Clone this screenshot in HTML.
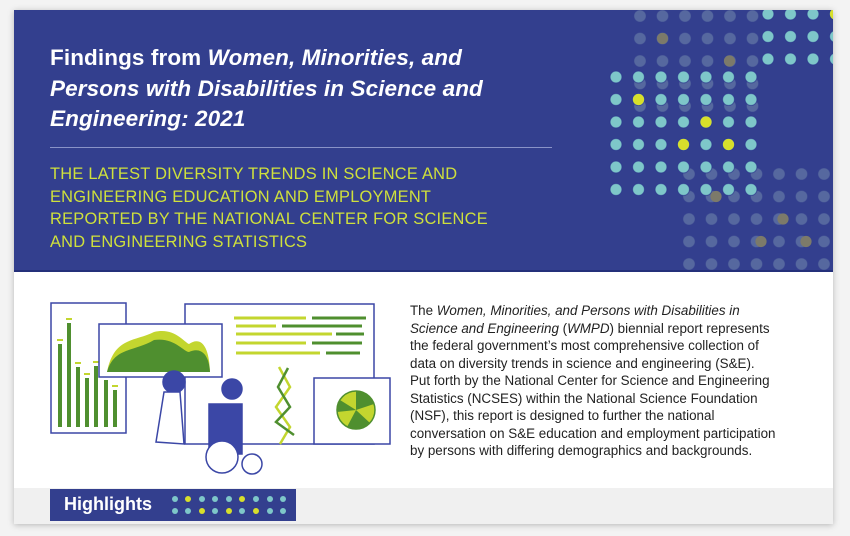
<!DOCTYPE html>
<html><head><meta charset="utf-8"><style>
body{margin:0;width:850px;height:536px;background:#f3f3f3;font-family:"Liberation Sans",sans-serif;position:relative;overflow:hidden}
.card{position:absolute;left:14px;top:10px;width:819px;height:514px;background:#fff;box-shadow:0 1px 6px rgba(0,0,0,.25)}
.band{position:absolute;left:0;top:0;width:819px;height:260px;background:#333f8e;border-bottom:2px solid #24307a}
.title{position:absolute;left:36px;top:33px;color:#fff;font-weight:bold;font-size:22.5px;line-height:30.5px;letter-spacing:0.1px}
.rule{position:absolute;left:36px;top:137px;width:502px;height:1px;background:#8a93c8}
.sub{position:absolute;left:36px;top:153px;color:#cfe03c;font-size:16.4px;line-height:22.5px;letter-spacing:0.25px}
.para{position:absolute;left:396px;top:292px;font-size:13.4px;line-height:17.5px;color:#222;white-space:nowrap}
.gray{position:absolute;left:0;top:478px;width:819px;height:36px;background:#f0f0f0}
.hl{position:absolute;left:36px;top:479px;width:246px;height:32px;background:#333f8e}
.hl span{position:absolute;left:14px;top:5px;color:#fff;font-weight:bold;font-size:18px}
</style></head><body>
<div class="card">
<div class="band"></div>
<svg style="position:absolute;left:0;top:0" width="819" height="260">
<defs>
<pattern id="pf1" x="614.75" y="-5.25" width="22.5" height="22.5" patternUnits="userSpaceOnUse"><circle cx="11.25" cy="11.25" r="5.8" fill="#56689f"/></pattern>
<pattern id="pf2" x="663.75" y="152.75" width="22.5" height="22.5" patternUnits="userSpaceOnUse"><circle cx="11.25" cy="11.25" r="5.8" fill="#56689f"/></pattern>
<pattern id="pb1" x="590.75" y="55.75" width="22.5" height="22.5" patternUnits="userSpaceOnUse"><circle cx="11.25" cy="11.25" r="6.3" fill="#27318a"/><circle cx="11.25" cy="11.25" r="5.6" fill="#7ec7c9"/></pattern>
<pattern id="pb2" x="742.75" y="-7.25" width="22.5" height="22.5" patternUnits="userSpaceOnUse"><circle cx="11.25" cy="11.25" r="6.3" fill="#27318a"/><circle cx="11.25" cy="11.25" r="5.6" fill="#7ec7c9"/></pattern>
</defs>
<rect x="614.75" y="-5.25" width="135" height="112.5" fill="url(#pf1)"/>
<rect x="663.75" y="152.75" width="157.5" height="112.5" fill="url(#pf2)"/>
<rect x="590.75" y="55.75" width="157.5" height="135" fill="url(#pb1)"/>
<rect x="742.75" y="-7.25" width="90" height="67.5" fill="url(#pb2)"/>
<g fill="#d7df2b"><circle cx="624.5" cy="89.5" r="5.6"/><circle cx="692" cy="112" r="5.6"/><circle cx="669.5" cy="134.5" r="5.6"/><circle cx="714.5" cy="134.5" r="5.6"/><circle cx="821.5" cy="4" r="5.6"/></g>
<g fill="#7c7a6a"><circle cx="648.5" cy="28.5" r="5.6"/><circle cx="715.5" cy="51" r="5.6"/><circle cx="702" cy="186.5" r="5.6"/><circle cx="769" cy="209" r="5.6"/><circle cx="747" cy="231.5" r="5.6"/><circle cx="792" cy="231.5" r="5.6"/></g>
</svg>
<div class="title">Findings from <i>Women, Minorities, and<br>Persons with Disabilities in Science and<br>Engineering: 2021</i></div>
<div class="rule"></div>
<div class="sub">THE LATEST DIVERSITY TRENDS IN SCIENCE AND<br>ENGINEERING EDUCATION AND EMPLOYMENT<br>REPORTED BY THE NATIONAL CENTER FOR SCIENCE<br>AND ENGINEERING STATISTICS</div>
<svg style="position:absolute;left:0;top:282px" width="390" height="195" fill="none" stroke="#3b47a6" stroke-width="1.5">
<rect x="37" y="11" width="75" height="130" fill="#fff"/>
<g stroke="#4f8f2f" stroke-width="4"><line x1="46" y1="135" x2="46" y2="52"/><line x1="55" y1="135" x2="55" y2="31"/><line x1="64" y1="135" x2="64" y2="75"/><line x1="73" y1="135" x2="73" y2="86"/><line x1="82" y1="135" x2="82" y2="74"/><line x1="92" y1="135" x2="92" y2="88"/><line x1="101" y1="135" x2="101" y2="98"/></g>
<g stroke="#c3d62f" stroke-width="2"><line x1="43" y1="48" x2="49" y2="48"/><line x1="52" y1="27" x2="58" y2="27"/><line x1="61" y1="71" x2="67" y2="71"/><line x1="70" y1="82" x2="76" y2="82"/><line x1="79" y1="70" x2="85" y2="70"/><line x1="89" y1="84" x2="95" y2="84"/><line x1="98" y1="94" x2="104" y2="94"/></g>
<rect x="171" y="12" width="189" height="140" fill="#fff"/>
<rect x="85" y="32" width="123" height="53" fill="#fff"/>
<path d="M93 80 C100 45,120 50,140 40 C160 35,170 50,175 52 C185 45,195 50,196 80Z" fill="#c3d62f" stroke="none"/>
<path d="M93 80 C100 55,120 60,140 48 C160 45,170 60,175 60 C185 55,195 60,196 80Z" fill="#4f8f2f" stroke="none"/>
<g stroke="#c3d62f" stroke-width="3"><line x1="220" y1="26" x2="292" y2="26"/><line x1="222" y1="34" x2="262" y2="34"/><line x1="222" y1="42" x2="318" y2="42"/><line x1="222" y1="51" x2="292" y2="51"/><line x1="222" y1="61" x2="306" y2="61"/></g>
<g stroke="#4f8f2f" stroke-width="3"><line x1="298" y1="26" x2="352" y2="26"/><line x1="268" y1="34" x2="348" y2="34"/><line x1="322" y1="42" x2="350" y2="42"/><line x1="298" y1="51" x2="348" y2="51"/><line x1="312" y1="61" x2="346" y2="61"/></g>
<polyline points="265,75 276,95 262,115 276,135 266,152" stroke="#c3d62f" stroke-width="2.5"/>
<polyline points="274,76 264,95 276,115 262,130 280,143" stroke="#4f8f2f" stroke-width="2.5"/>
<rect x="300" y="86" width="76" height="66" fill="#fff"/>
<circle cx="342" cy="118" r="19" fill="#c3d62f" stroke="#4f8f2f"/>
<path d="M342 118 L342 99 A19 19 0 0 1 360 112Z M342 118 L356 131 A19 19 0 0 1 333 135Z M342 118 L323 120 A19 19 0 0 1 326 108Z" fill="#4f8f2f" stroke="none"/>
<circle cx="160" cy="90" r="11" fill="#3b47a6"/>
<path d="M150 100 L142 150 L170 152 L166 100Z" fill="#fff"/>
<rect x="195" y="112" width="33" height="50" fill="#3b47a6"/><circle cx="218" cy="97" r="10" fill="#3b47a6"/>
<circle cx="208" cy="165" r="16" fill="#fff"/><circle cx="238" cy="172" r="10" fill="#fff"/>
</svg>
<div class="para">The <i>Women, Minorities, and Persons with Disabilities in</i><br><i>Science and Engineering</i> (<i>WMPD</i>) biennial report represents<br>the federal government’s most comprehensive collection of<br>data on diversity trends in science and engineering (S&amp;E).<br>Put forth by the National Center for Science and Engineering<br>Statistics (NCSES) within the National Science Foundation<br>(NSF), this report is designed to further the national<br>conversation on S&amp;E education and employment participation<br>by persons with differing demographics and backgrounds.</div>
<div class="gray"></div>
<div class="hl"><span>Highlights</span>
<svg style="position:absolute;left:120px;top:0" width="126" height="32">
<g fill="#7ec7c9"><circle cx="5" cy="10" r="3"/><circle cx="32" cy="10" r="3"/><circle cx="45" cy="10" r="3"/><circle cx="59" cy="10" r="3"/><circle cx="86" cy="10" r="3"/><circle cx="100" cy="10" r="3"/><circle cx="113" cy="10" r="3"/>
<circle cx="5" cy="22" r="3"/><circle cx="18" cy="22" r="3"/><circle cx="45" cy="22" r="3"/><circle cx="72" cy="22" r="3"/><circle cx="100" cy="22" r="3"/><circle cx="113" cy="22" r="3"/></g>
<g fill="#d7df2b"><circle cx="18" cy="10" r="3"/><circle cx="72" cy="10" r="3"/><circle cx="32" cy="22" r="3"/><circle cx="59" cy="22" r="3"/><circle cx="86" cy="22" r="3"/></g>
</svg></div>
</div>
</body></html>
